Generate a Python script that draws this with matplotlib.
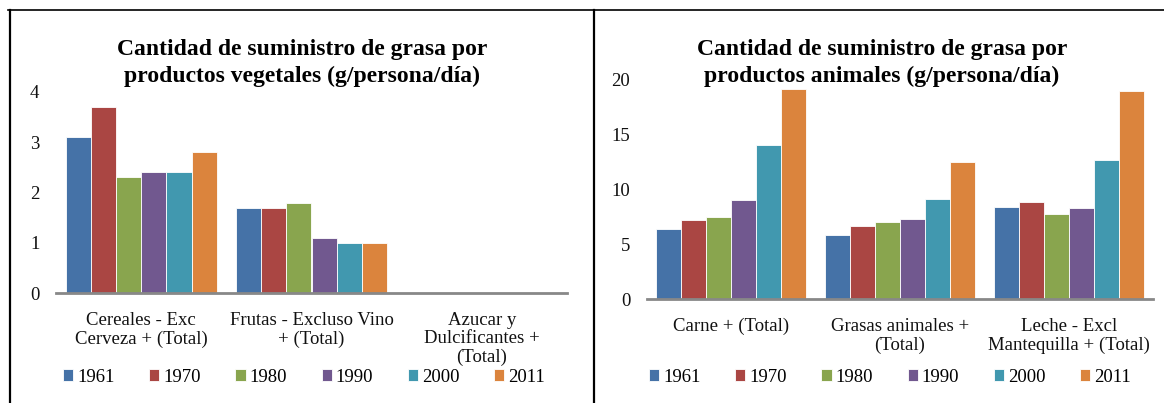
import matplotlib
matplotlib.use("Agg")
import matplotlib.pyplot as plt
import numpy as np
from matplotlib.lines import Line2D

years = ["1961", "1970", "1980", "1990", "2000", "2011"]
colors = ["#4572A7", "#AA4643", "#89A54E", "#71588F", "#4198AF", "#DB843D"]

veg_categories = ["Cereales - Exc\nCerveza + (Total)", "Frutas - Excluso Vino\n+ (Total)",
                  "Azucar y\nDulcificantes +\n(Total)"]
veg_values = {
    "1961": [3.1, 1.7, 0.0],
    "1970": [3.7, 1.7, 0.0],
    "1980": [2.3, 1.8, 0.0],
    "1990": [2.4, 1.1, 0.0],
    "2000": [2.4, 1.0, 0.0],
    "2011": [2.8, 1.0, 0.0],
}
veg_ticks = [0, 1, 2, 3, 4]

ani_categories = ["Carne + (Total)", "Grasas animales +\n(Total)", "Leche - Excl\nMantequilla + (Total)"]
ani_values = {
    "1961": [6.4, 5.8, 8.4],
    "1970": [7.2, 6.7, 8.9],
    "1980": [7.5, 7.0, 7.8],
    "1990": [9.0, 7.3, 8.3],
    "2000": [14.1, 9.1, 12.7],
    "2011": [19.2, 12.5, 19.0],
}
ani_ticks = [0, 5, 10, 15, 20]

titles = ["Cantidad de suministro de grasa por\nproductos vegetales (g/persona/día)",
          "Cantidad de suministro de grasa por\nproductos animales (g/persona/día)"]

plt.rcParams['font.family'] = ['Liberation Serif', 'DejaVu Serif']
W, H = 1164, 403
fig = plt.figure(figsize=(W / 100, H / 100), dpi=100)

def px(x0, y0, x1, y1):
    return [x0 / W, 1 - y1 / H, (x1 - x0) / W, (y1 - y0) / H]

ax1 = fig.add_axes(px(56, 92, 567, 293))
ax2 = fig.add_axes(px(647, 80, 1153, 299))

bw = 0.148
for ax, cats, vals, ticks in [(ax1, veg_categories, veg_values, veg_ticks),
                               (ax2, ani_categories, ani_values, ani_ticks)]:
    x = np.arange(len(cats))
    for i, (yr, c) in enumerate(zip(years, colors)):
        ax.bar(x + (i - 2.5) * bw, vals[yr], width=bw, color=c,
               edgecolor="#ffffff", linewidth=0.6, label=yr, zorder=2)
    ax.set_xlim(-0.5, len(cats) - 0.5)
    ax.set_ylim(ticks[0], ticks[-1])
    ax.set_yticks(ticks)
    ax.set_xticks(x)
    ax.set_xticklabels(cats, fontsize=13.5, linespacing=1.13, color="#111111")
    ax.tick_params(axis='y', length=0, pad=12, labelsize=13.5, labelcolor="#111111")
    ax.tick_params(axis='x', length=0, pad=13.5)
    for s in ["top", "right", "left"]:
        ax.spines[s].set_visible(False)
    ax.spines["bottom"].set_color("#888888")
    ax.spines["bottom"].set_linewidth(2)
    ax.spines["bottom"].set_zorder(3)

handles, labels = ax1.get_legend_handles_labels()
for ax, cx in [(ax1, 304 / W), (ax2, 890 / W)]:
    fig.legend(handles, labels, loc="center", bbox_to_anchor=(cx, 1 - 377 / H),
               ncol=6, frameon=False, fontsize=13.5, handlelength=0.55, handleheight=0.55,
               handletextpad=0.2, columnspacing=1.85, borderaxespad=0)

fig.text(302 / W, 1 - 63 / H, titles[0], ha="center", va="center", fontsize=17,
         fontweight="bold", linespacing=1.35)
fig.text(882 / W, 1 - 63 / H, titles[1], ha="center", va="center", fontsize=17,
         fontweight="bold", linespacing=1.35)

# panel borders
fig.add_artist(Line2D([8 / W, 1.0], [1 - 10 / H] * 2, color="black", lw=1.2))
fig.add_artist(Line2D([10 / W] * 2, [0, 1 - 10 / H], color="black", lw=1.6))
fig.add_artist(Line2D([593.5 / W] * 2, [0, 1 - 10 / H], color="black", lw=1.6))

fig.savefig("out.png", dpi=100)
